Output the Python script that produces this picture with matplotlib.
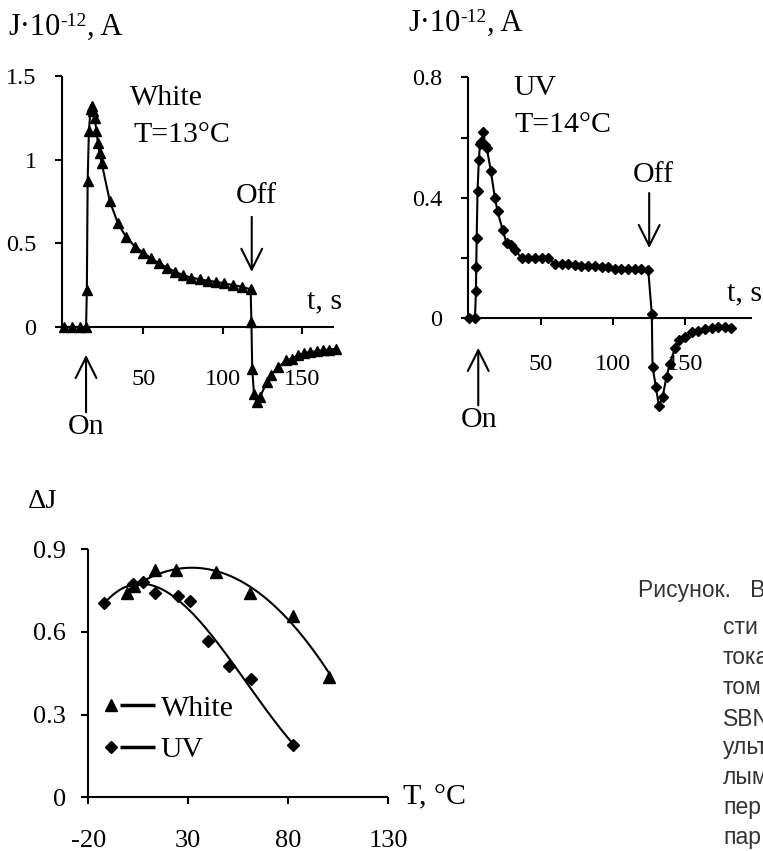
import numpy as np
import matplotlib
matplotlib.use('Agg')
import matplotlib.pyplot as plt
from matplotlib.legend_handler import HandlerBase
from matplotlib.lines import Line2D

plt.rcParams['font.family'] = ['Liberation Serif', 'DejaVu Serif']

W, H = 763, 851

# ---------------- data ----------------
# panel 1: White light, T=13 C
white_t = [0, 5, 10, 14, 14.5, 15, 15.8, 16.8, 17.6, 18.5, 19.5, 20.5, 21.5, 22.5, 23.8,
           29, 34, 39, 44.8, 50, 55, 60, 65, 70, 75, 80, 85.5, 91, 96, 101, 106.5, 112, 117.5,
           118, 118.5, 119.6, 121.3, 123.4, 127.6, 130.1, 135, 140, 143.5, 147.5, 151, 155,
           159, 163, 167, 171]
white_j = [0, 0, 0, 0, 0.22, 0.87, 1.17, 1.30, 1.32, 1.29, 1.25, 1.17, 1.10, 1.04, 0.98,
           0.75, 0.62, 0.54, 0.48, 0.445, 0.41, 0.38, 0.355, 0.33, 0.31, 0.295, 0.285, 0.275,
           0.27, 0.26, 0.25, 0.24, 0.225,
           0.03, -0.25, -0.40, -0.45, -0.42, -0.33, -0.29, -0.24, -0.20, -0.19, -0.17, -0.155,
           -0.15, -0.145, -0.14, -0.135, -0.13]

# panel 2: UV light, T=14 C
uv_t = [0, 4.3, 5.0, 5.2, 5.5, 6.1, 7.0, 7.8, 8.8, 10.2, 11.3, 12.5, 15.3, 18.1, 20, 23.5,
        26.2, 29.2, 32, 36.6, 41.2, 45.8, 50.5, 55.1, 59.7, 64.3, 68.9, 73.5, 78.1, 82.8,
        87.4, 92, 96.6, 101.2, 105.8, 110.4, 115, 119.6, 124.3,
        126.8, 127.3, 129.6, 131.7, 134.3, 137, 139.3, 142.8, 145.8, 149.7, 154.4, 159,
        163.6, 168.2, 172.8, 177.5, 181.4]
uv_j = [0, 0, 0.09, 0.17, 0.266, 0.424, 0.524, 0.58, 0.585, 0.62, 0.575, 0.565, 0.49, 0.40,
        0.355, 0.293, 0.25, 0.243, 0.227, 0.2, 0.2, 0.2, 0.2, 0.2, 0.18, 0.18, 0.18, 0.178,
        0.175, 0.175, 0.172, 0.17, 0.17, 0.165, 0.165, 0.163, 0.163, 0.163, 0.162,
        0.015, -0.16, -0.227, -0.29, -0.26, -0.194, -0.15, -0.10, -0.072, -0.061, -0.047,
        -0.042, -0.037, -0.032, -0.03, -0.03, -0.032]

# panel 3: amplitude vs temperature
temp_white = [-0.5, 3, 13.3, 24, 44, 61, 82.5, 100.5]
dj_white = [0.74, 0.765, 0.823, 0.823, 0.815, 0.741, 0.658, 0.435]
temp_uv = [-12, 2.2, 7.5, 13.5, 25, 31, 40, 50.3, 61.2, 82.2]
dj_uv = [0.703, 0.773, 0.781, 0.739, 0.73, 0.713, 0.566, 0.477, 0.427, 0.19]

p1_xticks = [50, 100, 150]
p1_yticks = [0, 0.5, 1, 1.5]
p1_ylabels = ['0', '0.5', '1', '1.5']
p2_xticks = [50, 100, 150]
p2_yticks = [0, 0.2, 0.4, 0.6, 0.8]
p2_ylabels = ['0', '', '0.4', '', '0.8']
p3_xticks = [-20, 30, 80, 130]
p3_xlabels = ['-20', '30', '80', '130']
p3_yticks = [0, 0.3, 0.6, 0.9]
p3_ylabels = ['0', '0.3', '0.6', '0.9']

caption_lines = ['Рисунок.   Временные', 'сти', 'тока', 'том', 'SBN', 'ульт', 'лым', 'пер', 'пар']

# ---------------- figure ----------------
fig = plt.figure(figsize=(W / 100, H / 100), dpi=100)


def axes_px(l, t, r, b):
    return fig.add_axes([l / W, 1 - b / H, (r - l) / W, (b - t) / H])


def style(ax, ytop, xpad, ypad, lsize):
    for s in ['top', 'right']:
        ax.spines[s].set_visible(False)
    ax.spines['left'].set_bounds(0, ytop)
    ax.spines['bottom'].set_position(('data', 0))
    for s in ['left', 'bottom']:
        ax.spines[s].set_linewidth(1.5)
        ax.spines[s].set_capstyle('butt')
    ax.tick_params(direction='out', length=5, width=1.5, labelsize=lsize)
    ax.tick_params(axis='x', pad=xpad)
    ax.tick_params(axis='y', pad=ypad)
    ax.patch.set_visible(False)


arrow_kw = dict(arrowstyle='->, head_length=0.6, head_width=0.3', lw=1.5,
                mutation_scale=25, shrinkA=0, shrinkB=0, color='black')
FS = 21.5

# ---- panel 1 ----
ax1 = axes_px(62.2, 76, 334.1, 410.6)
ax1.set_xlim(-1, 170)
ax1.set_ylim(-0.5, 1.5)
style(ax1, 1.5, 25.5, 13.5, 17.5)
ax1.set_xticks(p1_xticks)
ax1.set_yticks(p1_yticks)
ax1.set_yticklabels(p1_ylabels)
ax1.plot(white_t, white_j, color='black', lw=1.5, marker='^', ms=7, clip_on=False)
ax1.text(41.6, 1.37, 'White', fontsize=FS, va='center', ha='left')
ax1.text(43.5, 1.15, 'T=13°C', fontsize=FS, va='center', ha='left')
ax1.text(121, 0.78, 'Off', fontsize=FS, va='center', ha='center')
ax1.annotate('', xy=(118.2, 0.329), xytext=(118.2, 0.658), arrowprops=arrow_kw,
             annotation_clip=False)
ax1.annotate('', xy=(14, -0.167), xytext=(14, -0.51), arrowprops=arrow_kw,
             annotation_clip=False)
ax1.text(14, -0.6, 'On', fontsize=FS, va='center', ha='center', clip_on=False)
ax1.text(153, 0.15, 't, s', fontsize=FS, va='center', ha='left', clip_on=False)

# ---- panel 2 ----
ax2 = axes_px(468.3, 77.3, 751.7, 408.7)
ax2.set_xlim(-0.3, 196)
ax2.set_ylim(-0.3, 0.8)
style(ax2, 0.8, 21, 14, 17.5)
ax2.set_xticks(p2_xticks)
ax2.set_yticks(p2_yticks)
ax2.set_yticklabels(p2_ylabels)
ax2.plot(uv_t, uv_j, color='black', lw=1.5, marker='D', ms=5.2, clip_on=False)
ax2.text(30.8, 0.764, 'UV', fontsize=FS, va='center', ha='left')
ax2.text(31.5, 0.642, 'T=14°C', fontsize=FS, va='center', ha='left')
ax2.text(127.8, 0.476, 'Off', fontsize=FS, va='center', ha='center')
ax2.annotate('', xy=(125, 0.233), xytext=(125, 0.416), arrowprops=arrow_kw,
             annotation_clip=False)
ax2.annotate('', xy=(6.6, -0.098), xytext=(6.6, -0.289), arrowprops=arrow_kw,
             annotation_clip=False)
ax2.text(7.5, -0.339, 'On', fontsize=FS, va='center', ha='center', clip_on=False)
ax2.text(178.8, 0.084, 't, s', fontsize=FS, va='center', ha='left', clip_on=False)

# ---- y labels of top panels: J·10^-12, A ----
renderer = fig.canvas.get_renderer()


def unit_label(x, y):
    t1 = fig.text(x / W, 1 - y / H, 'J·10', fontsize=22, ha='left', va='baseline')
    x2 = t1.get_window_extent(renderer=renderer).x1
    t2 = fig.text(x2 / W, 1 - (y - 9) / H, '-12', fontsize=14, ha='left', va='baseline')
    x3 = t2.get_window_extent(renderer=renderer).x1
    fig.text(x3 / W, 1 - y / H, ', A', fontsize=22, ha='left', va='baseline')


unit_label(8, 35)
unit_label(408, 31)

# ---- panel 3 ----
ax3 = axes_px(88.3, 549, 388.3, 797.3)
ax3.set_xlim(-20, 130)
ax3.set_ylim(0, 0.9)
style(ax3, 0.9, 18.5, 11.3, 19)
ax3.set_xticks(p3_xticks)
ax3.set_xticklabels(p3_xlabels)
ax3.set_yticks(p3_yticks)
ax3.set_yticklabels(p3_ylabels)

cw = np.polyfit(temp_white, dj_white, 2)
xw = np.linspace(min(temp_white), max(temp_white), 200)
cu = np.polyfit(temp_uv, dj_uv, 3)
xu = np.linspace(min(temp_uv), max(temp_uv), 200)
ax3.plot(xw, np.polyval(cw, xw), color='black', lw=1.5)
ax3.plot(xu, np.polyval(cu, xu), color='black', lw=1.5)
h_w, = ax3.plot(temp_white, dj_white, linestyle='none', marker='^', ms=9, color='black',
                clip_on=False)
h_u, = ax3.plot(temp_uv, dj_uv, linestyle='none', marker='D', ms=5.8, color='black',
                clip_on=False)


class MarkerThenLine(HandlerBase):
    def create_artists(self, legend, orig_handle, xdescent, ydescent, width, height,
                       fontsize, trans):
        y = height / 2 - ydescent
        m = Line2D([-xdescent + 0.14 * width], [y], marker=orig_handle.get_marker(),
                   markersize=orig_handle.get_markersize(), color='black',
                   linestyle='none', transform=trans)
        ln = Line2D([-xdescent + 0.31 * width, -xdescent + width], [y, y], color='black',
                    lw=2.5, transform=trans, solid_capstyle='butt')
        return [m, ln]


leg = ax3.legend([h_w, h_u], ['White', 'UV'], loc='center left',
                 bbox_to_anchor=(0.052, 0.275), frameon=False, fontsize=FS,
                 handlelength=1.7, handletextpad=0.2, labelspacing=0.5,
                 borderpad=0, borderaxespad=0,
                 handler_map={h_w: MarkerThenLine(), h_u: MarkerThenLine()})

fig.text(28 / W, 1 - 502 / H, 'ΔJ', fontsize=20.5, ha='left', va='center')
ax3.text(137.4, 0, 'T, °C', fontsize=FS, ha='left', va='center', clip_on=False)

# ---- caption (cut at the right edge, as in the source page) ----
cap_x = [638] + [723] * (len(caption_lines) - 1)
cap_y = [597, 634, 664, 694, 726, 754, 784, 814, 844]
for txt, x, y in zip(caption_lines, cap_x, cap_y):
    fig.text(x / W, 1 - y / H, txt, fontsize=16.5, family='Liberation Sans',
             color='#333333', ha='left', va='baseline')

fig.savefig('out.png', dpi=100)
